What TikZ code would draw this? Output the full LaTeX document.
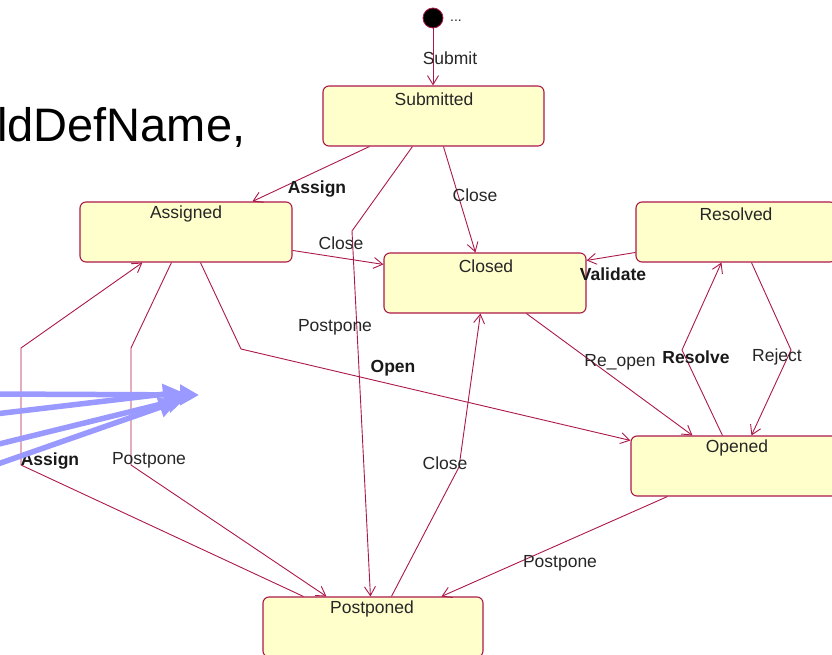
\documentclass[tikz,border=0pt]{standalone}
\usepackage{fontspec}
\setmainfont{Liberation Sans}
\usetikzlibrary{arrows.meta,calc}
\definecolor{edgecol}{RGB}{172,24,74}
\definecolor{statefill}{RGB}{255,255,204}
\definecolor{pointer}{RGB}{153,153,255}
\tikzset{
  state/.style={draw=edgecol, fill=statefill, line width=1.1pt, rounded corners=6pt,
                minimum height=60pt, inner sep=0pt},
  sname/.style={font=\fontsize{17.5}{19}\selectfont, text=black!85, inner sep=0pt},
  trans/.style={draw=edgecol, line width=0.9pt, -{Straight Barb[length=9pt,width=11pt]}},
  tlab/.style={font=\fontsize{17.5}{19}\selectfont, text=black!85, inner sep=0pt},
  tlabb/.style={font=\fontsize{17.5}{19}\selectfont\bfseries, text=black!90, inner sep=0pt},
  pointerarrow/.style={draw=pointer, line width=5.5pt, -{Triangle[length=19pt,width=20pt]}}
}
\begin{document}
\begin{tikzpicture}[x=1pt,y=-1pt]
\useasboundingbox (0,0) rectangle (832,655);
\clip (0,0) rectangle (832,655);

% heading fragment
\node[anchor=base west, inner sep=0pt, font=\fontsize{47}{50}\selectfont] (heading) at (-3,142) {ldDefName,};

% initial pseudo-state
\node[circle, fill=black, draw=edgecol, line width=0.8pt, minimum size=20pt, inner sep=0pt] (init) at (433,18) {};
\node[tlab, font=\fontsize{14}{15}\selectfont] (initlab) at (456,21) {...};

% states
\node[state, minimum width=221pt] (sub) at (433.5,116) {};
\node[state, minimum width=212pt] (asg) at (186,232) {};
\node[state, minimum width=202pt] (cl)  at (485,283) {};
\node[state, minimum width=200pt] (res) at (736,232) {};
\node[state, minimum width=212pt] (op)  at (737,466) {};
\node[state, minimum width=220pt] (pp)  at (373,627) {};

\node[sname] (subn) at (434,99) {Submitted};
\node[sname] (asgn) at (186,214) {Assigned};
\node[sname] (cln)  at (486,266) {Closed};
\node[sname] (resn) at (736,214) {Resolved};
\node[sname] (opn)  at (737,448) {Opened};
\node[sname] (ppn)  at (372,609) {Postponed};

% bend points
\coordinate (b1) at (352,231);
\coordinate (b2) at (682,350);
\coordinate (b3) at (791,350);
\coordinate (b4) at (241,349);
\coordinate (b5) at (459,467);
\coordinate (b6) at (21,465);
\coordinate (b7) at (21,348);
\coordinate (b8) at (131,348);
\coordinate (b9) at (131,465);

% transitions
\draw[trans] (init) -- (init |- sub.north);
\draw[trans] ($(sub.south west)+(47,0)$) -- ($(asg.north west)+(173,0)$);
\draw[trans] ($(sub.south west)+(90,0)$) -- (b1) -- ($(pp.north west)+(108,0)$);
\draw[trans] ($(sub.south west)+(121,0)$) -- ($(cl.north west)+(92,0)$);
\draw[trans] ($(asg.north east)+(0,49)$) -- ($(cl.north west)+(0,12)$);
\draw[trans] ($(res.north west)+(0,51)$) -- ($(cl.north east)+(0,8)$);
\draw[trans] ($(cl.south west)+(143,0)$) -- ($(op.north west)+(62,0)$);
\draw[trans] ($(op.north west)+(92,0)$) -- (b2) -- ($(res.south west)+(86,0)$);
\draw[trans] ($(res.south west)+(116,0)$) -- (b3) -- ($(op.north west)+(121,0)$);
\draw[trans] ($(asg.south west)+(121,0)$) -- (b4) -- ($(op.north west)+(0,5)$);
\draw[trans] ($(pp.north west)+(129,0)$) -- (b5) -- ($(cl.south west)+(97,0)$);
\draw[trans] ($(op.south west)+(37,0)$) -- ($(pp.north west)+(179,0)$);
\draw[trans] ($(pp.north west)+(41,0)$) -- (b6) -- (b7) -- ($(asg.south west)+(63,0)$);
\draw[trans] ($(asg.south west)+(92,0)$) -- (b8) -- (b9) -- ($(pp.north west)+(64,0)$);

% transition labels
\node[tlab]  (lsubmit)  at (450,58)  {Submit};
\node[tlabb] (lassign1) at (317,189) {Assign};
\node[tlab]  (lclose1)  at (475,195) {Close};
\node[tlab]  (lclose2)  at (341,243) {Close};
\node[tlabb] (lvalid)   at (613,274) {Validate};
\node[tlab]  (lpost1)   at (335,327) {Postpone};
\node[tlabb] (lopen)    at (393,368) {Open};
\node[tlab]  (lreopen)  at (620,362) {Re\_open};
\node[tlabb] (lresolve) at (696,357) {Resolve};
\node[tlab]  (lreject)  at (777,357) {Reject};
\node[tlabb] (lassign2) at (50,461)  {Assign};
\node[tlab]  (lpost2)   at (149,460) {Postpone};
\node[tlab]  (lclose3)  at (445,463) {Close};
\node[tlab]  (lpost3)   at (560,563) {Postpone};

% pointer arrows
\coordinate (p1s) at (-5,394);
\coordinate (p1e) at (199,395);
\coordinate (p2s) at (-5,414);
\coordinate (p2e) at (182,392);
\coordinate (p3s) at (-5,445);
\coordinate (p3e) at (186,398);
\coordinate (p4s) at (-5,465);
\coordinate (p4e) at (178,401);
\draw[pointerarrow] (p1s) -- (p1e);
\draw[pointerarrow] (p2s) -- (p2e);
\draw[pointerarrow] (p3s) -- (p3e);
\draw[pointerarrow] (p4s) -- (p4e);
\end{tikzpicture}
\end{document}
